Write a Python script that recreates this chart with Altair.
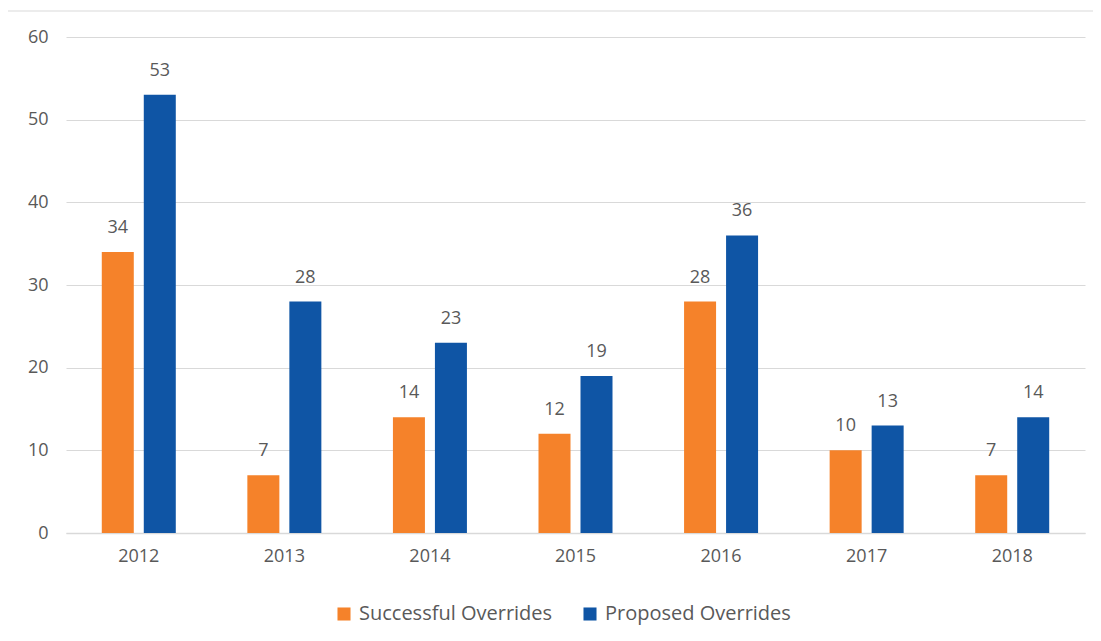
import altair as alt
import pandas as pd

years = ["2012", "2013", "2014", "2015", "2016", "2017", "2018"]
successful = [34, 7, 14, 12, 28, 10, 7]
proposed = [53, 28, 23, 19, 36, 13, 14]
series = ["Successful Overrides", "Proposed Overrides"]
colors = ["#F5822A", "#0F55A5"]

rows = []
for i, y in enumerate(years):
    rows.append({"year": y, "series": series[0], "value": successful[i]})
    rows.append({"year": y, "series": series[1], "value": proposed[i]})
df = pd.DataFrame(rows)

FONT = "Open Sans"
TXT = "#595959"
FS = 18

x = alt.X("year:N", title=None, sort=years,
          scale=alt.Scale(paddingInner=0, paddingOuter=0),
          axis=alt.Axis(labelAngle=0, ticks=False, domainColor="#D9D9D9", domainWidth=1.5,
                        labelPadding=14, labelFontSize=FS, labelColor=TXT, labelFont=FONT))
xoff = alt.XOffset("series:N", sort=series,
                   scale=alt.Scale(paddingInner=0.238, paddingOuter=0.852))
y = alt.Y("value:Q", title=None,
          scale=alt.Scale(domain=[0, 60]),
          axis=alt.Axis(values=[0, 10, 20, 30, 40, 50, 60], ticks=False, domain=False,
                        gridColor="#D9D9D9", gridWidth=1.2, labelPadding=18,
                        labelFontSize=FS, labelColor=TXT, labelFont=FONT))
color = alt.Color("series:N", sort=series,
                  scale=alt.Scale(domain=series, range=colors),
                  legend=alt.Legend(title=None, orient="none", direction="horizontal",
                                    legendX=268, legendY=567, symbolType="square",
                                    symbolSize=170, symbolStrokeWidth=0, labelFontSize=20,
                                    labelColor=TXT, labelFont=FONT, columnPadding=27,
                                    labelOffset=5, labelLimit=400))

base = alt.Chart(df)
bars = base.mark_bar().encode(x=x, xOffset=xoff, y=y, color=color)
labels = base.mark_text(baseline="alphabetic", dy=-19, fontSize=FS, font=FONT, color=TXT).encode(
    x=x, xOffset=xoff, y=y, text="value:Q")
border = alt.Chart(pd.DataFrame({"a": [0]})).mark_rule(color="#D9D9D9", strokeWidth=1).encode(
    x=alt.value(-58), x2=alt.value(1040), y=alt.value(-26))

chart = alt.layer(border, bars, labels).properties(
    width=1019, height=496,
    background="white",
    autosize=alt.AutoSizeParams(type="none"),
    padding={"left": 58, "top": 29, "right": 8, "bottom": 98},
).configure_view(strokeWidth=0, stroke=None)

chart.save("out.html", embed_options={"renderer": "svg", "actions": False})
